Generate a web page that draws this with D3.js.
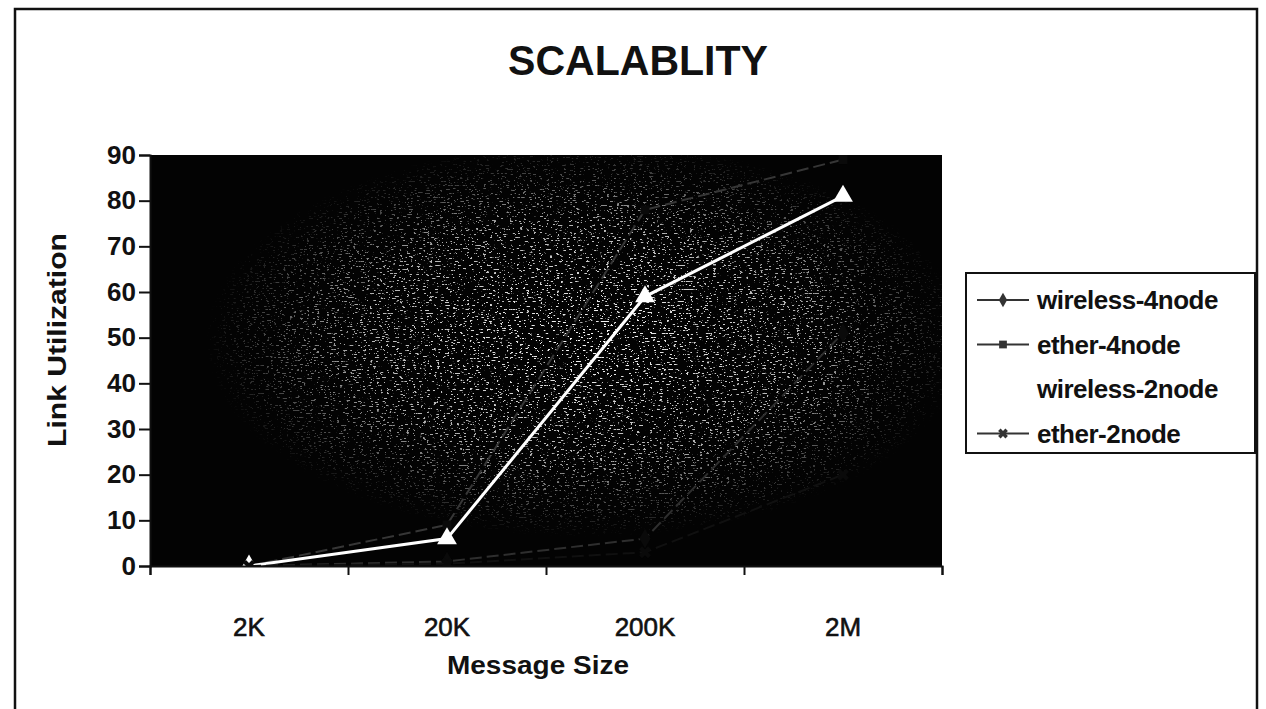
<!DOCTYPE html>
<html>
<head>
<meta charset="utf-8">
<script src="https://cdn.jsdelivr.net/npm/d3@7"></script>
<style>
  body { margin: 0; background: #fff; }
  text { font-family: "Liberation Sans", Arial, sans-serif; fill: #111; }
</style>
</head>
<body>
<div id="chart"></div>
<script>
// chart data
var categories = ["2K", "20K", "200K", "2M"];
var seriesNames = ["wireless-4node", "ether-4node", "wireless-2node", "ether-2node"];
var wireless4 = [0, 1, 6, 51];
var ether4 = [0, 9, 78, 89];
var wireless2 = [0, 6, 59, 81];
var ether2 = [0, 0.5, 3, 20];
var yTicks = [0, 10, 20, 30, 40, 50, 60, 70, 80, 90];

var svgWidth = 1266;
var svgHeight = 709;
var plot = { left: 150, right: 942, top: 155, bottom: 566 };

var svg = d3.select("#chart")
  .append("svg")
  .attr("width", svgWidth)
  .attr("height", svgHeight);

var defs = svg.append("defs");

// speckle texture of the photocopied plot area
var filter = defs.append("filter").attr("id", "speckle")
  .attr("x", 0).attr("y", 0).attr("width", 1).attr("height", 1);
filter.append("feTurbulence")
  .attr("type", "fractalNoise")
  .attr("baseFrequency", "0.3 0.75")
  .attr("numOctaves", 2)
  .attr("seed", 11);
filter.append("feColorMatrix")
  .attr("type", "matrix")
  .attr("values", "0 0 0 0 1  0 0 0 0 1  0 0 0 0 1  16 0 0 0 -10.2");

var grad = defs.append("radialGradient").attr("id", "blob")
  .attr("cx", "0.55").attr("cy", "0.45").attr("r", "0.48");
grad.append("stop").attr("offset", "0").attr("stop-color", "#fff").attr("stop-opacity", 1);
grad.append("stop").attr("offset", "0.6").attr("stop-color", "#fff").attr("stop-opacity", 0.7);
grad.append("stop").attr("offset", "1").attr("stop-color", "#fff").attr("stop-opacity", 0);
defs.append("mask").attr("id", "blobMask")
  .append("rect")
  .attr("x", plot.left).attr("y", plot.top)
  .attr("width", plot.right - plot.left).attr("height", plot.bottom - plot.top)
  .attr("fill", "url(#blob)");

defs.append("clipPath").attr("id", "plotClip")
  .append("rect")
  .attr("x", plot.left).attr("y", plot.top)
  .attr("width", plot.right - plot.left).attr("height", plot.bottom - plot.top);

// outer frame
svg.append("rect")
  .attr("x", 15).attr("y", 9)
  .attr("width", 1242).attr("height", 720)
  .attr("fill", "none")
  .attr("stroke", "#111")
  .attr("stroke-width", 2.5);

// scales
var xScale = d3.scaleBand().domain(categories).range([plot.left, plot.right]);
var yScale = d3.scaleLinear().domain([0, 90]).range([plot.bottom, plot.top]);
var edgeScale = d3.scaleLinear().domain([0, categories.length]).range([plot.left, plot.right]);

// plot area
svg.append("rect")
  .attr("x", plot.left).attr("y", plot.top)
  .attr("width", plot.right - plot.left).attr("height", plot.bottom - plot.top)
  .attr("fill", "#030303");
svg.append("rect")
  .attr("x", plot.left).attr("y", plot.top)
  .attr("width", plot.right - plot.left).attr("height", plot.bottom - plot.top)
  .attr("filter", "url(#speckle)")
  .attr("mask", "url(#blobMask)");

// gridlines
svg.append("g")
  .selectAll("line")
  .data(yTicks.slice(1))
  .enter()
  .append("line")
  .attr("x1", plot.left).attr("x2", plot.right)
  .attr("y1", function(d) { return yScale(d); })
  .attr("y2", function(d) { return yScale(d); })
  .attr("stroke", "#bbb")
  .attr("stroke-width", 1.2)
  .attr("stroke-dasharray", "10 7 3 9")
  .attr("mask", "url(#blobMask)")
  .attr("opacity", 0.55);

// series lines
var series = [
  { name: seriesNames[0], values: wireless4, color: "#2e2e2e", marker: "diamond", width: 2 },
  { name: seriesNames[1], values: ether4, color: "#363636", marker: "square", width: 2 },
  { name: seriesNames[2], values: wireless2, color: "#ffffff", marker: "triangle", width: 3 },
  { name: seriesNames[3], values: ether2, color: "#101010", marker: "cross", width: 2 }
];

var line = d3.line()
  .x(function(d, i) { return xScale(categories[i]) + xScale.bandwidth() / 2; })
  .y(function(d) { return yScale(d); });

function symbolFor(m) {
  if (m === "diamond") return d3.symbol().type(d3.symbolDiamond).size(110);
  if (m === "square") return d3.symbol().type(d3.symbolSquare).size(80);
  if (m === "triangle") return d3.symbol().type(d3.symbolTriangle).size(170);
  return d3.symbol().type(d3.symbolCross).size(90);
}

series.forEach(function(s) {
  var bright = s.marker === "triangle";
  var g = svg.append("g").attr("clip-path", bright ? null : "url(#plotClip)");
  g.append("path")
    .datum(s.values)
    .attr("d", line)
    .attr("fill", "none")
    .attr("stroke", s.color)
    .attr("stroke-width", s.width)
    .attr("stroke-dasharray", bright ? null : "12 5");
  g.selectAll("path.pt")
    .data(s.values)
    .enter()
    .append("path")
    .attr("class", "pt")
    .attr("transform", function(d, i) {
      var rot = s.marker === "cross" ? " rotate(45)" : "";
      return "translate(" + (xScale(categories[i]) + xScale.bandwidth() / 2) + "," + yScale(d) + ")" + rot;
    })
    .attr("d", symbolFor(s.marker)())
    .attr("fill", bright ? s.color : "#0a0a0a");
});

// axes
var leftAxis = d3.axisLeft(yScale).tickValues(yTicks).tickSize(11).tickPadding(3);
var yAxisG = svg.append("g")
  .attr("transform", "translate(" + plot.left + ",0)")
  .call(leftAxis);
yAxisG.selectAll("text").style("font-size", "26px").style("font-weight", "bold")
  .style("font-family", "'Liberation Sans', Arial, sans-serif").attr("fill", "#111");
yAxisG.selectAll("line, path").attr("stroke", "#111").attr("stroke-width", 2);

var edgeAxis = d3.axisBottom(edgeScale).ticks(categories.length).tickFormat("").tickSize(9);
var xEdgeG = svg.append("g")
  .attr("transform", "translate(0," + plot.bottom + ")")
  .call(edgeAxis);
xEdgeG.selectAll("line, path").attr("stroke", "#111").attr("stroke-width", 2);

var bottomAxis = d3.axisBottom(xScale).tickSize(0).tickPadding(52);
var xAxisG = svg.append("g")
  .attr("transform", "translate(0," + plot.bottom + ")")
  .call(bottomAxis);
xAxisG.select("path").remove();
xAxisG.selectAll("text").style("font-size", "26px")
  .style("font-family", "'Liberation Sans', Arial, sans-serif")
  .attr("fill", "#111").attr("stroke", "#111").attr("stroke-width", 0.6);

// title and axis titles
svg.append("text")
  .attr("x", 638).attr("y", 75)
  .attr("text-anchor", "middle")
  .attr("textLength", 260)
  .attr("lengthAdjust", "spacingAndGlyphs")
  .style("font-size", "42px")
  .style("font-weight", "bold")
  .text("SCALABLITY");

svg.append("text")
  .attr("x", 538).attr("y", 674)
  .attr("text-anchor", "middle")
  .attr("textLength", 182)
  .attr("lengthAdjust", "spacingAndGlyphs")
  .style("font-size", "25px")
  .style("font-weight", "bold")
  .text("Message Size");

svg.append("text")
  .attr("transform", "translate(66,340) rotate(-90)")
  .attr("text-anchor", "middle")
  .attr("textLength", 214)
  .attr("lengthAdjust", "spacingAndGlyphs")
  .style("font-size", "25px")
  .style("font-weight", "bold")
  .text("Link Utilization");

// legend
var legend = svg.append("g").attr("transform", "translate(966,273)");
legend.append("rect")
  .attr("width", 289).attr("height", 180)
  .attr("fill", "#fff")
  .attr("stroke", "#111")
  .attr("stroke-width", 2);

var legendColors = ["#333", "#333", "#ffffff", "#333"];
var rows = legend.selectAll("g.row")
  .data(series)
  .enter()
  .append("g")
  .attr("class", "row")
  .attr("transform", function(d, i) { return "translate(0," + (27 + i * 44.5) + ")"; });

rows.append("line")
  .attr("x1", 11).attr("x2", 63)
  .attr("stroke", function(d, i) { return legendColors[i]; })
  .attr("stroke-width", 2);
rows.append("path")
  .attr("transform", function(d) { return "translate(37,0)" + (d.marker === "cross" ? " rotate(45)" : ""); })
  .attr("d", function(d) { return symbolFor(d.marker).size(d.marker === "triangle" ? 90 : 60)(); })
  .attr("fill", function(d, i) { return legendColors[i]; });
rows.append("text")
  .attr("x", 71).attr("y", 9)
  .style("font-size", "26px")
  .style("font-weight", "bold")
  .style("letter-spacing", "-0.5px")
  .text(function(d) { return d.name; });
</script>
</body>
</html>
